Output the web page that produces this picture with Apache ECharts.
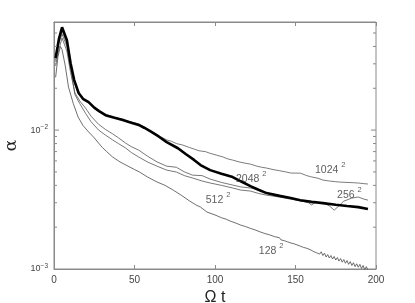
<!DOCTYPE html>
<html>
<head>
<meta charset="utf-8">
<script src="https://cdn.jsdelivr.net/npm/echarts@6/dist/echarts.min.js"></script>
<style>html,body{margin:0;padding:0;background:#fff}#c{width:415px;height:303px}</style>
</head>
<body>
<div id="c"></div>
<script>
// ---- data ----
const xTickLabels = ['0', '50', '100', '150', '200'];
const yPowerLabels = ['10{s|−3}', '10{s|−2}'];

const s2048 = [[1,0.033],[3,0.045],[5,0.055],[6,0.054],[8,0.0444],[10.3,0.0303],[12.5,0.023],[15.3,0.0185],[18,0.0168],[21.5,0.0159],[25,0.0145],[28,0.0137],[32,0.0128],[37,0.0123],[42.7,0.0118],[47,0.0114],[52.6,0.0109],[56,0.0104],[60,0.0098],[65,0.0090],[70,0.0082],[77,0.0074],[82,0.0067],[87,0.0061],[91,0.0056],[97,0.00515],[104,0.00485],[111,0.00459],[116,0.00428],[122,0.00395],[127,0.00372],[132,0.00352],[140,0.00336],[147,0.00324],[153,0.00313],[160,0.00305],[167,0.00298],[175,0.00290],[182,0.00284],[189,0.00279],[195,0.00270]];

const s1024 = [[1,0.031],[3,0.043],[5,0.0515],[6,0.051],[8,0.042],[10.3,0.029],[12.5,0.022],[15.3,0.0182],[18,0.0166],[21.5,0.0157],[25,0.0143],[28,0.0136],[32,0.0130],[37,0.0124],[42.7,0.0120],[47,0.0115],[52.6,0.0111],[56,0.0105],[60,0.0098],[65,0.0091],[70,0.0085],[73,0.0083],[76,0.0080],[80,0.0078],[84,0.0075],[87,0.0073],[90,0.0071],[94,0.0070],[97,0.0068],[101,0.0066],[105,0.0064],[108,0.0062],[111,0.00608],[115,0.0059],[118,0.0058],[122,0.00569],[126,0.0055],[129,0.0054],[132,0.00533],[136,0.0052],[140,0.0051],[144,0.0050],[147,0.00491],[150,0.0049],[153,0.0049],[157,0.0047],[160,0.0046],[164,0.0045],[167,0.00437],[171,0.0043],[175,0.00425],[178,0.00422],[182,0.0042],[186,0.00418],[189,0.00416],[192,0.00412],[195,0.00409]];

const s512 = [[1,0.032],[3,0.042],[5,0.049],[6,0.048],[8,0.040],[10.3,0.028],[13,0.0180],[16,0.0155],[19.6,0.0132],[23,0.0115],[27.7,0.0100],[32,0.0092],[36.4,0.0085],[40,0.0080],[44.5,0.00743],[48,0.0069],[52.6,0.0064],[58,0.0059],[64,0.0055],[70,0.00515],[76,0.00499],[81,0.0047],[86,0.00452],[92,0.0043],[97,0.00416],[104,0.0040],[111,0.00383],[116,0.0037],[122,0.00364],[127,0.0035],[132,0.0034],[140,0.0033],[147,0.00318],[153,0.0031],[158,0.0030],[160,0.00289],[162,0.0030],[165,0.0030]];

const s256 = [[1,0.029],[3,0.038],[5,0.046],[6,0.045],[8,0.037],[10.3,0.026],[13,0.0185],[16,0.0162],[19.6,0.0144],[23,0.0126],[27.7,0.0110],[32,0.0101],[36.4,0.0094],[40,0.0088],[44.5,0.00806],[48,0.0076],[52.6,0.00718],[58,0.0065],[64,0.0059],[70,0.0055],[76,0.0054],[81,0.0050],[86,0.00474],[92,0.0047],[97,0.00444],[104,0.0042],[111,0.00402],[116,0.0039],[122,0.00383],[127,0.0037],[132,0.00352],[140,0.0034],[147,0.00324],[153,0.0031],[160,0.00298],[164,0.0030],[167,0.00300],[171,0.00285],[174,0.00265],[177,0.00285],[180,0.00308],[185,0.00324],[189,0.0033],[192,0.0032],[195,0.00313]];

const s128 = [[1,0.024],[2.5,0.034],[4,0.040],[5,0.038],[7,0.029],[9,0.0204],[12,0.0155],[15,0.0124],[18,0.0108],[21.5,0.0097],[25,0.0088],[27.7,0.00806],[30,0.0075],[32.7,0.0070],[36.4,0.0064],[41,0.0059],[46,0.0055],[50,0.0052],[53,0.0050],[58,0.0046],[64,0.00423],[69,0.0040],[74,0.0037],[79,0.0034],[84,0.0031],[88,0.0029],[91,0.00279],[95,0.00257],[100,0.00245],[104,0.00234],[107,0.00228],[110,0.00220],[113,0.00214],[116,0.00207],[119,0.00202],[122,0.00196],[125,0.00191],[128,0.00185],[131,0.00180],[134,0.00176],[137,0.00171],
[140,0.00168],[141,0.00162],[142,0.00165],[143,0.00160],[144,0.00162],[145,0.00157],[146,0.00160],[147,0.00154],[148,0.00157],[149,0.00152],[150,0.00155],[151,0.00149],[152,0.00152],[153,0.00146],[154,0.00149],[155,0.00143],[156,0.00146],[157,0.00141],[158,0.00143],[159,0.00138],[160,0.00141],[161,0.00134],[162,0.00138],[163,0.00131],[164,0.00135],[165,0.00128],[166,0.00133],[167,0.00125],[168,0.00130],[169,0.00122],[170,0.00127],[171,0.00120],[172,0.00125],[173,0.00118],[174,0.00123],[175,0.00116],[176,0.00121],[177,0.00114],[178,0.00119],[179,0.00112],[180,0.00117],[181,0.00110],[182,0.00115],[183,0.00108],[184,0.00113],[185,0.00106],[186,0.00111],[187,0.00104],[188,0.00109],[189,0.00103],[190,0.00108],[191,0.00101],[192,0.00106],[193,0.00099],[194,0.00104],[195,0.00098]];

// curve labels: [t, alpha, base text]
const curveLabels = [[171.6,0.00533,'1024'],[122.5,0.00458,'2048'],[101.9,0.00324,'512'],[183.5,0.00352,'256'],[134.9,0.00139,'128']];

// y-axis ticks
const yMajorTicks = [0.01];
const yMinorTicks = [0.002,0.003,0.004,0.005,0.006,0.007,0.008,0.009,0.02,0.03,0.04,0.05];
const X_MIN = 0, X_MAX = 200, Y_MIN = 0.001, Y_MAX = 0.06;

const axisGray = '#8a8a8a';
const chart = echarts.init(document.getElementById('c'), null, {renderer: 'canvas'});

const tickData = yMajorTicks.map(v => [X_MIN, v, 1]).concat(yMinorTicks.map(v => [X_MIN, v, 0]));

function lineSeries(name, data, color, width) {
  return {name, type: 'line', data, showSymbol: false, symbol: 'none', sampling: null,
    lineStyle: {color, width}, z: width > 1.5 ? 5 : 3, animation: false, clip: true};
}

chart.setOption({
  animation: false,
  backgroundColor: '#fff',
  grid: {left: 54, top: 22, right: 39, bottom: 34, containLabel: false, outerBoundsMode: 'none',
    show: true, borderColor: axisGray, borderWidth: 1, backgroundColor: 'transparent'},
  xAxis: [{
    type: 'value', min: X_MIN, max: X_MAX, interval: 50,
    axisLine: {show: true, lineStyle: {color: axisGray, width: 1}},
    axisTick: {show: true, inside: true, length: 4, lineStyle: {color: axisGray}},
    splitLine: {show: false},
    axisLabel: {color: '#444', fontSize: 10, fontFamily: 'Liberation Sans, Arial, sans-serif', margin: 6,
      formatter: v => xTickLabels[Math.round(v / 50)] || ''},
    name: 'Ω t', nameLocation: 'middle', nameGap: 14,
    nameTextStyle: {fontSize: 16, color: '#222', fontFamily: 'Liberation Sans, Arial, sans-serif'}
  }, {
    type: 'value', position: 'top', min: X_MIN, max: X_MAX, interval: 50,
    axisLine: {show: true, lineStyle: {color: axisGray}},
    axisTick: {show: true, inside: true, length: 4, lineStyle: {color: axisGray}},
    axisLabel: {show: false}, splitLine: {show: false}
  }],
  yAxis: [{
    type: 'log', logBase: 10, min: Y_MIN, max: Y_MAX,
    axisLine: {show: true, lineStyle: {color: axisGray}},
    axisTick: {show: false}, splitLine: {show: false}, minorTick: {show: false},
    axisLabel: {
      color: '#444', fontSize: 9, fontFamily: 'Liberation Sans, Arial, sans-serif', margin: 6,
      formatter: v => {
        const e = Math.round(Math.log10(v));
        if (Math.abs(Math.log10(v) - e) > 1e-6) return '';
        if (e === -3) return yPowerLabels[0];
        if (e === -2) return yPowerLabels[1];
        return '';
      },
      rich: {s: {fontSize: 6.5, verticalAlign: 'top', lineHeight: 13, color: '#444'}}
    },
    name: 'α', nameLocation: 'middle', nameGap: 23, nameRotate: 90,
    nameTextStyle: {fontSize: 17, color: '#222', fontFamily: 'DejaVu Serif, serif'}
  }],
  series: [
    lineSeries('128', s128, '#4a4a4a', 0.8),
    lineSeries('256', s256, '#555', 0.8),
    lineSeries('512', s512, '#555', 0.8),
    lineSeries('1024', s1024, '#5a5a5a', 0.8),
    lineSeries('2048', s2048, '#000', 2.6),
    {
      type: 'custom', name: 'yticks', data: tickData, encode: {x: 0, y: 1}, silent: true, z: 6,
      renderItem: (params, api) => {
        const y = api.value(1);
        const len = api.value(2) ? 5 : 3;
        const pl = api.coord([X_MIN, y]);
        const pr = api.coord([X_MAX, y]);
        return {type: 'group', children: [
          {type: 'line', shape: {x1: pl[0], y1: pl[1], x2: pl[0] + len, y2: pl[1]}, style: {stroke: axisGray, lineWidth: 1}},
          {type: 'line', shape: {x1: pr[0], y1: pr[1], x2: pr[0] - len, y2: pr[1]}, style: {stroke: axisGray, lineWidth: 1}}
        ]};
      }
    },
    {
      type: 'scatter', name: 'labels', symbolSize: 0, silent: true, z: 7,
      data: curveLabels.map(d => ({value: [d[0], d[1]], name: d[2]})),
      label: {
        show: true, position: 'inside',
        formatter: p => '{n|' + p.name + '}{s|2}',
        rich: {
          n: {fontSize: 10.5, color: '#333', fontFamily: 'Liberation Sans, Arial, sans-serif', lineHeight: 15, verticalAlign: 'bottom'},
          s: {fontSize: 7.5, color: '#333', fontFamily: 'Liberation Sans, Arial, sans-serif', lineHeight: 15, verticalAlign: 'top', padding: [0, 0, 0, 3]}
        }
      }
    }
  ]
});
</script>
</body>
</html>
